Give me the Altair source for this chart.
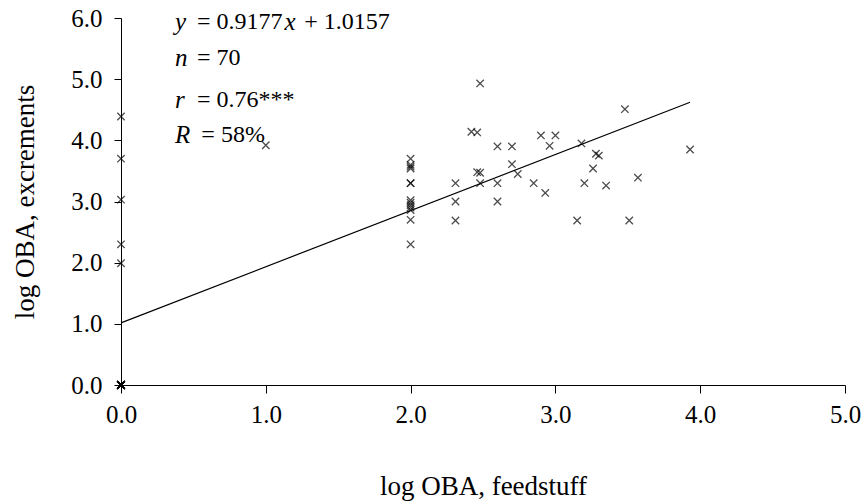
import altair as alt
import pandas as pd

# Observations (log OBA feedstuff, log OBA excrements)
feed = ([0.0] * 20 +
        [0.0, 0.0, 0.0, 0.0, 0.0] +
        [1.0] +
        [2.0] * 13 +
        [2.31, 2.31, 2.31, 2.42, 2.46, 2.46, 2.48, 2.48, 2.48,
         2.60, 2.60, 2.60, 2.70, 2.70, 2.74, 2.85, 2.90, 3.00, 2.96, 2.93,
         3.15, 3.48, 3.18, 3.28, 3.30, 3.26, 3.20, 3.35, 3.57, 3.51, 3.93])
excr = ([0.0] * 20 +
        [4.39, 3.70, 3.03, 2.30, 1.99] +
        [3.92] +
        [3.70, 3.60, 3.57, 3.54, 3.30, 3.30, 3.02, 2.98, 2.94, 2.90, 2.86, 2.70, 2.30] +
        [3.30, 3.00, 2.69, 4.14, 4.13, 3.48, 3.47, 3.30, 4.93,
         3.90, 3.30, 3.00, 3.90, 3.61, 3.45, 3.30, 4.08, 4.08, 3.91, 3.14,
         2.69, 4.51, 3.95, 3.78, 3.75, 3.54, 3.30, 3.26, 3.39, 2.69, 3.85])

# Regression line end points
line_x = [0.0, 3.93]
line_y = [1.0157, 4.622]

# Annotation pieces
var_x = [0.373, 0.373, 0.373, 0.373, 1.13]
var_y = [5.93, 5.34, 4.66, 4.09, 5.93]
var_t = ["y", "n", "r", "R", "x"]
txt_x = [0.525, 0.525, 0.525, 0.555, 1.265]
txt_y = [5.93, 5.34, 4.66, 4.09, 5.93]
txt_t = ["= 0.9177", "= 70", "= 0.76***", "= 58%", "+ 1.0157"]

FONT = "Liberation Serif"

pts = pd.DataFrame({"feed": feed, "excr": excr})
ln = pd.DataFrame({"feed": line_x, "excr": line_y})
vars_df = pd.DataFrame({"feed": var_x, "excr": var_y, "t": var_t})
txt_df = pd.DataFrame({"feed": txt_x, "excr": txt_y, "t": txt_t})

xscale = alt.Scale(domain=[0, 5], nice=False, zero=False)
yscale = alt.Scale(domain=[0, 6], nice=False, zero=False)

xaxis = alt.Axis(title="log OBA, feedstuff", values=[0, 1, 2, 3, 4, 5], format=".1f",
                 grid=False, domainColor="black", tickColor="black", tickSize=8,
                 labelFlush=False, labelOverlap=False,
                 labelFont=FONT, labelFontSize=25, labelColor="black", labelPadding=9,
                 titleFont=FONT, titleFontSize=27, titleFontWeight="normal",
                 titleColor="black", titlePadding=46)
yaxis = alt.Axis(title="log OBA, excrements", values=[0, 1, 2, 3, 4, 5, 6], format=".1f",
                 grid=False, domainColor="black", tickColor="black", tickSize=7,
                 labelFlush=False, labelOverlap=False,
                 labelFont=FONT, labelFontSize=25, labelColor="black", labelPadding=12,
                 titleFont=FONT, titleFontSize=27, titleFontWeight="normal",
                 titleColor="black", titlePadding=31)

points = alt.Chart(pts).mark_point(
    shape="M-1,-1L1,1M1,-1L-1,1", filled=False, color="black", strokeWidth=1.3, size=55
).encode(
    x=alt.X("feed:Q", scale=xscale, axis=xaxis),
    y=alt.Y("excr:Q", scale=yscale, axis=yaxis),
)

line = alt.Chart(ln).mark_line(color="black", strokeWidth=1.2).encode(
    x=alt.X("feed:Q", scale=xscale), y=alt.Y("excr:Q", scale=yscale)
)

vars_text = alt.Chart(vars_df).mark_text(
    font=FONT, fontSize=25, fontStyle="italic", align="left", baseline="middle", color="black"
).encode(x=alt.X("feed:Q", scale=xscale), y=alt.Y("excr:Q", scale=yscale), text="t:N")

rest_text = alt.Chart(txt_df).mark_text(
    font=FONT, fontSize=24, align="left", baseline="middle", color="black"
).encode(x=alt.X("feed:Q", scale=xscale), y=alt.Y("excr:Q", scale=yscale), text="t:N")

chart = alt.layer(line, points, vars_text, rest_text).properties(
    width=724, height=367,
    autosize=alt.AutoSizeParams(type="none"),
    padding={"left": 121, "top": 18, "right": 17, "bottom": 118},
    background="white",
).configure_view(stroke=None)

chart.save("out.html", embed_options={"renderer": "svg", "actions": False})
